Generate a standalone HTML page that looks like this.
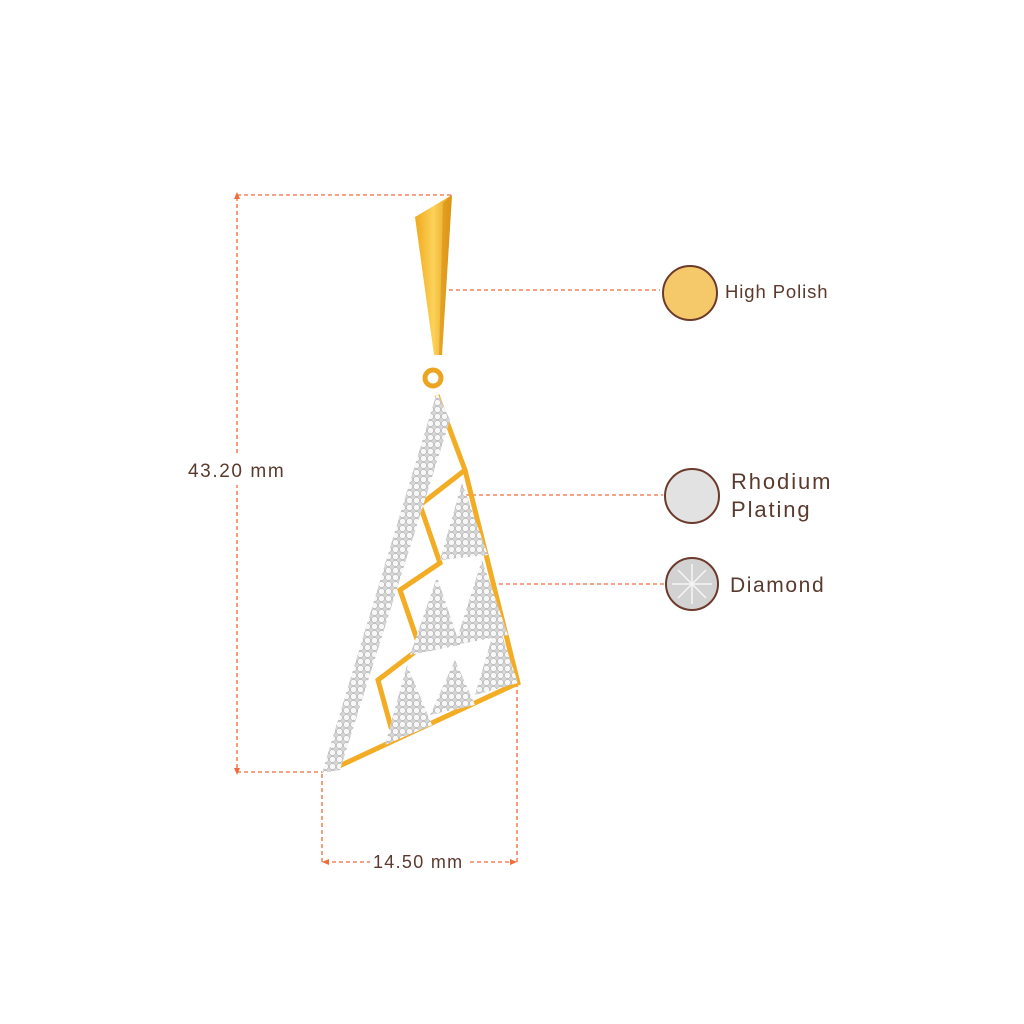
<!DOCTYPE html>
<html><head><meta charset="utf-8"><style>
html,body{margin:0;padding:0;background:#fff;}
svg{display:block}
text{font-family:"Liberation Sans",sans-serif;fill:#5b3a2e}
</style></head><body>
<svg width="1024" height="1024" viewBox="0 0 1024 1024" xmlns="http://www.w3.org/2000/svg">
<defs>
<linearGradient id="g" x1="0" y1="0" x2="1" y2="0">
<stop offset="0" stop-color="#f0a81c"/><stop offset="0.5" stop-color="#fcd25a"/><stop offset="1" stop-color="#e39a12"/>
</linearGradient>
<pattern id="d" width="7" height="7" patternUnits="userSpaceOnUse">
<rect width="7" height="7" fill="#d6d6d6"/><circle cx="3.5" cy="3.5" r="3" fill="#f7f7f7" stroke="#a5a5a5" stroke-width="0.5"/>
</pattern>
</defs>
<g stroke="#f26b3a" stroke-width="1.3" stroke-dasharray="4,3" fill="none">
<line x1="237" y1="195" x2="452" y2="195"/>
<line x1="237" y1="197" x2="237" y2="770"/>
<line x1="237" y1="772" x2="322" y2="772"/>
<line x1="322" y1="774" x2="322" y2="862"/>
<line x1="517" y1="683" x2="517" y2="862"/>
<line x1="325" y1="862" x2="370" y2="862"/>
<line x1="470" y1="862" x2="514" y2="862"/>
<line x1="442" y1="290" x2="660" y2="290"/>
<line x1="465" y1="495" x2="663" y2="495"/>
<line x1="485" y1="584" x2="665" y2="584"/>
<circle cx="435" cy="290" r="3.5"/>
</g>
<g fill="#f26b3a">
<polygon points="237,192 234,199 240,199"/>
<polygon points="237,775 234,768 240,768"/>
<polygon points="322,862 329,859 329,865"/>
<polygon points="517,862 510,859 510,865"/>
</g>
<rect x="185" y="455" width="110" height="30" fill="#fff"/>
<text x="188" y="477" font-size="19" letter-spacing="1.6">43.20 mm</text>
<text x="373" y="868" font-size="18" letter-spacing="1.3">14.50 mm</text>
<!-- bail -->
<polygon points="415,217 452,195 442,355 434,355" fill="url(#g)"/>
<polygon points="443,203 452,195 442,355 439,355" fill="#d48a10" opacity="0.5"/>
<circle cx="433" cy="378" r="8" fill="none" stroke="#eba521" stroke-width="5"/>
<!-- gold frame -->
<g stroke="#f2ad25" stroke-width="5" fill="none" stroke-linejoin="miter">
<polyline points="437,395 465,470 420,505 440,563 400,590 420,648 378,680 395,742"/>
<polyline points="465,470 518,683 335,768"/>
</g>
<!-- diamond strip -->
<polygon points="437,392 450,420 340,770 322,773" fill="url(#d)"/>
<!-- diamond triangles -->
<g fill="url(#d)">
<polygon points="462,483 488,555 440,560"/>
<polygon points="482,560 508,635 455,645"/>
<polygon points="437,577 460,645 410,655"/>
<polygon points="497,620 518,683 475,695"/>
<polygon points="455,660 475,705 430,715"/>
<polygon points="407,665 432,725 385,745"/>
</g>
<!-- legend -->
<circle cx="690" cy="293" r="27" fill="#f5c96a" stroke="#6b3a2a" stroke-width="2"/>
<circle cx="692" cy="496" r="27" fill="#e2e2e2" stroke="#6b3a2a" stroke-width="2"/>
<circle cx="692" cy="584" r="26" fill="#d2d2d2" stroke="#6b3a2a" stroke-width="2"/>
<g stroke="#fff" stroke-width="1.5" opacity="0.8">
<line x1="672" y1="584" x2="712" y2="584"/><line x1="692" y1="564" x2="692" y2="604"/>
<line x1="678" y1="570" x2="706" y2="598"/><line x1="706" y1="570" x2="678" y2="598"/>
</g>
<text x="725" y="298" font-size="18.5" letter-spacing="0.9">High Polish</text>
<text x="731" y="489" font-size="22" letter-spacing="1.9">Rhodium</text>
<text x="731" y="517" font-size="22" letter-spacing="1.9">Plating</text>
<text x="730" y="592" font-size="21" letter-spacing="1.6">Diamond</text>
</svg>
</body></html>
